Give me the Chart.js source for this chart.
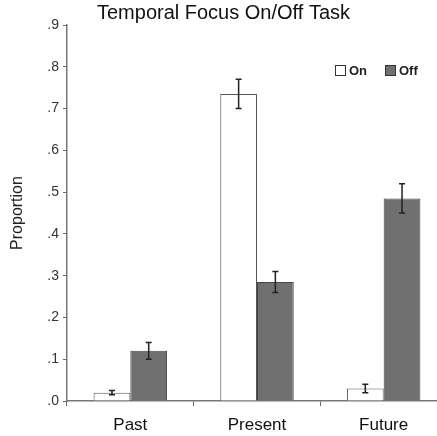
<!DOCTYPE html>
<html>
<head>
<meta charset="utf-8">
<script src="https://cdn.jsdelivr.net/npm/chart.js@4/dist/chart.umd.min.js"></script>
<style>
  html, body { margin: 0; padding: 0; background: #fff; overflow: hidden; }
  #wrap { width: 447px; height: 436px; }
</style>
</head>
<body>
<div id="wrap"><canvas id="chart" width="447" height="436"></canvas></div>
<script>
const categories = ["Past", "Present", "Future"];
const onValues = [0.02, 0.735, 0.03];
const onErrors = [0.005, 0.035, 0.01];
const offValues = [0.12, 0.285, 0.485];
const offErrors = [0.02, 0.025, 0.035];
const yTicks = [0, 0.1, 0.2, 0.3, 0.4, 0.5, 0.6, 0.7, 0.8, 0.9];
const yTickLabels = [".0", ".1", ".2", ".3", ".4", ".5", ".6", ".7", ".8", ".9"];

const FONT = "'Liberation Sans', Arial, sans-serif";

// error bars drawn through the y scale
const errorBars = {
  id: "errorBars",
  afterDatasetsDraw(chart) {
    const c = chart.ctx;
    const y = chart.scales.y;
    c.save();
    c.strokeStyle = "#222";
    c.lineWidth = 1.5;
    chart.data.datasets.forEach((ds, i) => {
      const meta = chart.getDatasetMeta(i);
      meta.data.forEach((bar, j) => {
        const v = ds.data[j], e = ds.errors[j];
        const top = y.getPixelForValue(v + e);
        const bot = y.getPixelForValue(v - e);
        c.beginPath();
        c.moveTo(bar.x, top); c.lineTo(bar.x, bot);
        c.moveTo(bar.x - 3, top); c.lineTo(bar.x + 3, top);
        c.moveTo(bar.x - 3, bot); c.lineTo(bar.x + 3, bot);
        c.stroke();
      });
    });
    c.restore();
  }
};

// small legend in the upper right of the plot
const cornerLegend = {
  id: "cornerLegend",
  afterDraw(chart) {
    const c = chart.ctx;
    let x = chart.chartArea.left + 268;
    const yMid = chart.chartArea.top + 46;
    c.save();
    c.font = "bold 13px " + FONT;
    c.textBaseline = "middle";
    chart.data.datasets.forEach(ds => {
      c.fillStyle = ds.backgroundColor;
      c.strokeStyle = "#333";
      c.lineWidth = 1;
      c.fillRect(x + 0.5, yMid - 5.5, 10, 10);
      c.strokeRect(x + 0.5, yMid - 5.5, 10, 10);
      c.fillStyle = "#222";
      c.fillText(ds.label, x + 14, yMid + 0.5);
      x += 50;
    });
    c.restore();
  }
};

new Chart(document.getElementById("chart"), {
  type: "bar",
  data: {
    labels: categories,
    datasets: [
      { label: "On", data: onValues, errors: onErrors,
        backgroundColor: "#ffffff", borderColor: "#555", borderWidth: 1 },
      { label: "Off", data: offValues, errors: offErrors,
        backgroundColor: "#707070", borderColor: "#444", borderWidth: 1 }
    ]
  },
  options: {
    responsive: false,
    animation: false,
    layout: { padding: { top: 0, right: 0, bottom: 0, left: 0 } },
    datasets: { bar: { categoryPercentage: 0.58, barPercentage: 1.0 } },
    plugins: {
      legend: { display: false },
      tooltip: { enabled: false },
      title: {
        display: true,
        text: "Temporal Focus On/Off Task",
        color: "#111",
        font: { family: FONT, size: 20, weight: "normal" },
        padding: { top: 1, bottom: 0 }
      }
    },
    scales: {
      x: {
        afterFit(s) { s.height = 35; },
        grid: { offset: true, drawOnChartArea: false, drawTicks: true, tickLength: 5, color: "#666" },
        border: { color: "#777", width: 1.5 },
        ticks: { color: "#111", font: { family: FONT, size: 17 }, padding: 9 }
      },
      y: {
        min: 0, max: 0.9,
        afterFit(s) { s.width = 67; },
        afterBuildTicks(s) { s.ticks = yTicks.map(v => ({ value: v })); },
        grid: { drawOnChartArea: false, drawTicks: true, tickLength: 4, color: "#666" },
        border: { color: "#777", width: 1.5 },
        ticks: {
          color: "#333", font: { family: FONT, size: 14 }, padding: 4,
          callback: (v) => yTickLabels[yTicks.findIndex(t => Math.abs(t - v) < 1e-9)]
        },
        title: {
          display: true, text: "Proportion", color: "#222",
          font: { family: FONT, size: 16 }, padding: { top: 8, bottom: 4 }
        }
      }
    }
  },
  plugins: [errorBars, cornerLegend]
});
</script>
</body>
</html>
